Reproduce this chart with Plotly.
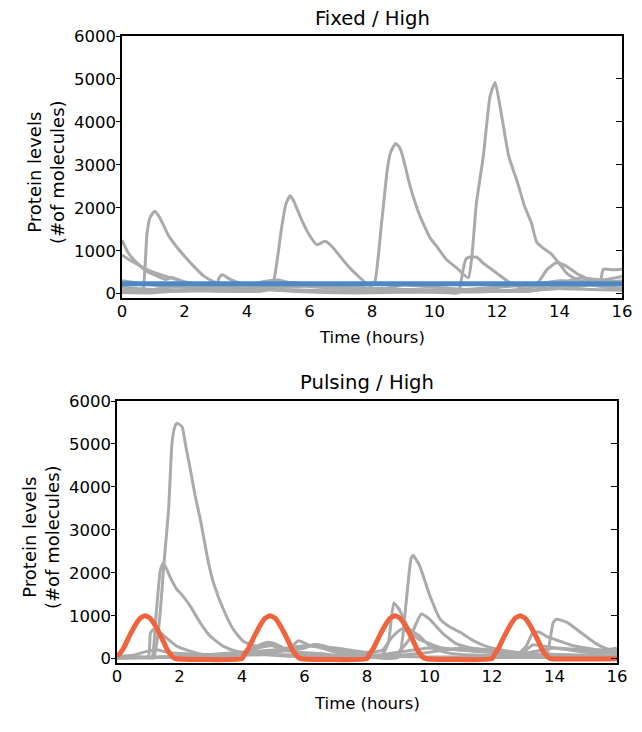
import plotly.graph_objects as go

# ---------------- data: top panel (Fixed / High) ----------------
fixed_level_t = [0, 16]
fixed_level_v = [230, 230]

top_a_t = [0, 0.3, 0.6, 0.68, 0.8, 0.9, 1.05, 1.2, 1.5, 2.0, 2.6, 3.0, 3.5, 4.0, 5.0, 6.0, 7.0, 8.0, 9.0, 10.0, 11.0, 12.0, 13.0, 14.0, 15.0, 16.0]
top_a_v = [180, 90, 40, 120, 1400, 1780, 1920, 1780, 1340, 870, 420, 260, 170, 130, 100, 80, 60, 50, 40, 40, 50, 60, 80, 120, 200, 300]

top_b_t = [0, 0.2, 0.5, 0.8, 1.0, 1.4, 1.6, 2.0, 2.5, 3.0, 4.0, 4.5, 5.0, 5.5, 6.0, 7.0, 8.0, 9.0, 10.0, 10.5, 11.0, 12.0, 13.0, 13.5, 14.0, 14.5, 15.0, 15.5, 16.0]
top_b_v = [1250, 950, 700, 520, 450, 330, 380, 260, 180, 140, 100, 120, 150, 250, 200, 150, 120, 100, 80, 60, 80, 150, 200, 250, 300, 280, 200, 150, 120]

top_c_t = [0, 0.3, 0.6, 1.0, 1.5, 2.0, 2.5, 3.0, 3.5, 4.0, 5.0, 6.0, 7.0, 8.0, 9.0, 10.0, 11.0, 12.0, 13.0, 13.3, 13.6, 13.9, 14.2, 14.6, 15.0, 15.5, 16.0]
top_c_v = [900, 760, 640, 500, 380, 280, 200, 150, 120, 100, 80, 60, 60, 50, 40, 40, 40, 60, 120, 250, 560, 720, 650, 450, 320, 250, 200]

top_d_t = [0, 0.5, 1.0, 1.5, 2.0, 2.5, 3.0, 3.1, 3.2, 3.5, 4.0, 4.5, 5.0, 5.5, 6.0, 7.0, 8.0, 9.0, 10.0, 11.0, 12.0, 13.0, 14.0, 14.5, 15.0, 15.3, 15.4, 15.7, 16.0]
top_d_v = [300, 250, 200, 170, 150, 120, 110, 360, 440, 320, 200, 180, 230, 260, 200, 150, 120, 100, 80, 60, 50, 60, 150, 250, 300, 280, 570, 560, 570]

top_e_t = [0, 0.5, 1.0, 1.5, 2.0, 3.0, 4.0, 4.5, 4.8, 4.95, 5.1, 5.25, 5.38, 5.5, 5.7, 5.95, 6.24, 6.5, 6.72, 7.0, 7.24, 7.5, 7.87, 8.0, 8.1, 8.3, 8.5, 8.6, 8.76, 8.9, 9.0, 9.22, 9.54, 9.86, 10.07, 10.39, 10.71, 11.08, 11.2, 11.34, 11.56, 11.78, 11.94, 12.1, 12.38, 12.66, 12.88, 13.1, 13.27, 13.5, 13.7, 13.91, 14.23, 14.5, 14.77, 15.0, 15.5, 16.0]
top_e_v = [150, 120, 100, 90, 80, 60, 50, 60, 150, 700, 1500, 2100, 2280, 2150, 1800, 1420, 1140, 1220, 1100, 850, 640, 450, 210, 200, 300, 1600, 2950, 3300, 3500, 3380, 3150, 2500, 1800, 1300, 1100, 790, 600, 370, 900, 2100, 3190, 4600, 4920, 4350, 3190, 2580, 2040, 1650, 1200, 1050, 950, 780, 480, 350, 250, 220, 160, 120]

top_f_t = [0, 1, 2, 3, 4, 5, 6, 7, 8, 9, 10, 10.5, 10.76, 10.9, 11.0, 11.1, 11.35, 11.56, 11.99, 12.42, 12.95, 13.5, 14, 14.5, 15.0, 15.5, 16.0]
top_f_v = [50, 70, 90, 100, 120, 150, 180, 160, 120, 80, 40, 20, 20, 500, 800, 850, 850, 710, 480, 250, 100, 100, 150, 250, 300, 330, 400]

top_g_t = [0, 1, 2, 3, 4, 4.5, 5, 5.5, 6, 7, 8, 8.5, 9, 10, 11, 12, 13, 14, 14.5, 15, 15.5, 16]
top_g_v = [80, 100, 200, 180, 200, 280, 320, 230, 170, 120, 100, 130, 200, 150, 100, 80, 60, 200, 350, 350, 300, 260]

top_h_t = [0, 1, 1.5, 2, 3, 4, 4.5, 5, 6, 7, 8, 9, 10, 11, 12, 12.5, 13, 14, 15, 16]
top_h_v = [30, 20, 50, 60, 80, 100, 150, 80, 40, 20, 20, 40, 60, 100, 150, 220, 180, 120, 100, 80]

# ---------------- data: bottom panel (Pulsing / High) ----------------
pulse_t = [0, 0.1, 0.2, 0.3, 0.45, 0.6, 0.75, 0.9, 1.05, 1.2, 1.35, 1.5, 1.6, 1.7, 1.8, 1.9,
           4.0, 4.1, 4.2, 4.3, 4.45, 4.6, 4.75, 4.9, 5.05, 5.2, 5.35, 5.5, 5.6, 5.7, 5.8, 5.9,
           8.0, 8.1, 8.2, 8.3, 8.45, 8.6, 8.75, 8.9, 9.05, 9.2, 9.35, 9.5, 9.6, 9.7, 9.8, 9.9,
           12.0, 12.1, 12.2, 12.3, 12.45, 12.6, 12.75, 12.9, 13.05, 13.2, 13.35, 13.5, 13.6, 13.7, 13.8, 13.9, 16.0]
pulse_v = [60, 130, 230, 380, 600, 800, 950, 1000, 950, 800, 600, 380, 220, 110, 30, 0,
           0, 130, 230, 380, 600, 800, 950, 1000, 950, 800, 600, 380, 220, 110, 30, 0,
           0, 130, 230, 380, 600, 800, 950, 1000, 950, 800, 600, 380, 220, 110, 30, 0,
           0, 130, 230, 380, 600, 800, 950, 1000, 950, 800, 600, 380, 220, 110, 30, 0, 0]

bot_a_t = [0, 0.5, 1.0, 1.17, 1.3, 1.39, 1.5, 1.65, 1.76, 1.85, 1.92, 2.08, 2.2, 2.35, 2.5, 2.67, 2.93, 3.09, 3.41, 3.73, 4.05, 4.48, 4.9, 5.3, 5.8, 6.5, 7.0, 8.0, 9.0, 10.0, 11.0, 12.0, 13.0, 14.0, 15.0, 16.0]
bot_a_v = [40, 30, 20, 20, 500, 1140, 2200, 3465, 5015, 5400, 5480, 5400, 4950, 4395, 3800, 3232, 2225, 1760, 1140, 674, 403, 287, 325, 200, 150, 120, 80, 60, 50, 40, 40, 30, 30, 30, 30, 40]

bot_b_t = [0, 0.5, 1.0, 1.12, 1.25, 1.39, 1.49, 1.7, 1.92, 2.03, 2.35, 2.67, 2.99, 3.41, 3.84, 4.3, 4.7, 5.0, 5.5, 6.0, 7.0, 8.0, 8.5, 8.69, 8.86, 9.02, 9.35, 9.68, 10.0, 10.45, 11.0, 12.0, 13.0, 14.0, 15.0, 16.0]
bot_b_v = [20, 30, 30, 40, 1000, 2070, 2230, 1900, 1605, 1527, 1217, 830, 519, 287, 170, 130, 100, 80, 60, 50, 40, 40, 100, 400, 1300, 1160, 690, 530, 300, 160, 100, 80, 60, 50, 40, 30]

bot_c_t = [0, 0.5, 1.0, 1.07, 1.17, 1.39, 1.92, 2.56, 2.99, 3.5, 4.0, 4.5, 4.8, 5.0, 5.5, 5.8, 6.0, 6.5, 7, 8, 9.0, 9.24, 9.41, 9.48, 9.68, 10.01, 10.34, 10.67, 11.0, 11.33, 11.77, 12.2, 13.0, 14.0, 15.0, 16.0]
bot_c_v = [30, 40, 50, 600, 680, 600, 290, 130, 60, 40, 100, 300, 380, 360, 200, 150, 120, 80, 60, 40, 30, 1230, 2330, 2400, 2170, 1470, 920, 730, 610, 450, 300, 220, 130, 100, 80, 60]

bot_d_t = [0, 0.5, 0.96, 1.3, 1.6, 2.0, 3, 4, 4.5, 5.0, 5.5, 5.8, 6.2, 6.5, 7, 8, 8.5, 9.0, 9.35, 9.74, 10.0, 10.45, 10.89, 11.55, 12, 13, 13.3, 13.6, 14, 14.5, 15, 16]
bot_d_v = [60, 80, 170, 200, 150, 120, 100, 120, 250, 310, 220, 420, 300, 260, 150, 100, 80, 150, 450, 1040, 920, 570, 340, 220, 180, 150, 320, 300, 250, 200, 150, 120]

bot_e_t = [0, 1, 2, 3, 4, 5, 6, 6.3, 6.6, 7, 8, 9, 10, 11, 12, 13, 13.5, 13.74, 13.96, 14.07, 14.4, 14.84, 15.28, 15.72, 16]
bot_e_v = [20, 30, 50, 80, 120, 150, 250, 330, 300, 200, 100, 80, 150, 250, 200, 100, 50, 62, 844, 920, 844, 610, 375, 220, 250]

bot_f_t = [0, 1, 2, 3, 4, 5, 6, 7, 8, 8.5, 8.8, 9.13, 9.68, 10.34, 11, 12, 12.8, 13.1, 13.3, 13.5, 13.8, 14.2, 14.6, 15, 15.5, 16]
bot_f_v = [50, 40, 60, 100, 150, 200, 300, 250, 150, 200, 500, 690, 450, 260, 200, 150, 100, 300, 600, 620, 500, 400, 300, 250, 200, 180]

bot_g_t = [0, 1, 2, 3, 4, 5, 6, 7, 8, 9, 10, 11, 12, 13, 14, 15, 16]
bot_g_v = [10, 20, 40, 60, 80, 100, 80, 60, 40, 150, 250, 200, 150, 120, 250, 200, 150]

x_ticks = [0, 2, 4, 6, 8, 10, 12, 14, 16]
y_ticks = [0, 1000, 2000, 3000, 4000, 5000, 6000]

# ---------------- styles ----------------
GRAY = "#aaaaaa"
BLUE = "#4b88c8"
ORANGE = "#f0633f"
FONT = "DejaVu Sans"

fig = go.Figure()

top_traces = [(top_a_t, top_a_v), (top_b_t, top_b_v), (top_c_t, top_c_v), (top_d_t, top_d_v),
              (top_f_t, top_f_v), (top_g_t, top_g_v), (top_h_t, top_h_v), (top_e_t, top_e_v)]
for t, v in top_traces:
    fig.add_trace(go.Scatter(x=t, y=v, mode="lines",
                             line=dict(color=GRAY, width=3, shape="spline", smoothing=0.5),
                             xaxis="x", yaxis="y", showlegend=False, hoverinfo="skip"))
fig.add_trace(go.Scatter(x=fixed_level_t, y=fixed_level_v, mode="lines",
                         line=dict(color=BLUE, width=5), xaxis="x", yaxis="y", showlegend=False))

bot_traces = [(bot_g_t, bot_g_v), (bot_e_t, bot_e_v), (bot_f_t, bot_f_v), (bot_d_t, bot_d_v),
              (bot_c_t, bot_c_v), (bot_b_t, bot_b_v), (bot_a_t, bot_a_v)]
for t, v in bot_traces:
    fig.add_trace(go.Scatter(x=t, y=v, mode="lines",
                             line=dict(color=GRAY, width=3, shape="spline", smoothing=0.5),
                             xaxis="x2", yaxis="y2", showlegend=False, hoverinfo="skip"))
fig.add_trace(go.Scatter(x=pulse_t, y=pulse_v, mode="lines",
                         line=dict(color=ORANGE, width=5, shape="spline", smoothing=0.4),
                         xaxis="x2", yaxis="y2", showlegend=False))

# dummy traces so the right-side tick axes are drawn
fig.add_trace(go.Scatter(x=[None], y=[None], xaxis="x", yaxis="y3", showlegend=False, hoverinfo="skip"))
fig.add_trace(go.Scatter(x=[None], y=[None], xaxis="x2", yaxis="y4", showlegend=False, hoverinfo="skip"))

# The page body has an 8px margin; size the figure so it fits the 642x732 window
OFF = 8
W, H = 642 - 2 * OFF, 732 - 2 * OFF


def px(xs):
    return (xs - OFF) / W


def py(ys):
    return 1 - (ys - OFF) / H


top_dom_x = [px(122), px(622)]
bot_dom_x = [px(117), px(617)]
top_dom_y = [py(298), py(36)]
bot_dom_y = [py(663), py(401)]
YR = [-100, 6000]
tickfont = dict(family=FONT, size=16.5, color="black")

xcommon = dict(range=[0, 16], tickvals=x_ticks, ticks="", showgrid=False, zeroline=False,
               showline=True, linecolor="black", linewidth=1.5, mirror=True, tickfont=tickfont,
               automargin=False, ticklabelstandoff=-3)
ycommon = dict(range=YR, tickvals=y_ticks, ticks="outside", ticklen=4, tickcolor="black",
               showgrid=False, zeroline=False, showline=True, linecolor="black", linewidth=1.5,
               mirror=True, tickfont=tickfont, automargin=False, ticklabelstandoff=-3)
yright = dict(range=YR, tickvals=y_ticks, ticks="inside", ticklen=6, tickcolor="black",
              showgrid=False, zeroline=False, showline=False, showticklabels=False, side="right",
              automargin=False)

fig.update_layout(
    width=W, height=H,
    margin=dict(l=0, r=0, t=0, b=0, autoexpand=False),
    paper_bgcolor="white", plot_bgcolor="white",
    xaxis=dict(domain=top_dom_x, anchor="y", **xcommon),
    yaxis=dict(domain=top_dom_y, anchor="x", **ycommon),
    xaxis2=dict(domain=bot_dom_x, anchor="y2", **xcommon),
    yaxis2=dict(domain=bot_dom_y, anchor="x2", **ycommon),
    yaxis3=dict(overlaying="y", anchor="x", **yright),
    yaxis4=dict(overlaying="y2", anchor="x2", **yright),
)

lab = dict(family=FONT, size=16.5, color="black")
ylab = dict(family=FONT, size=18, color="black")
ttl = dict(family=FONT, size=19.6, color="black")
ann = [
    dict(text="Fixed / High", x=px(372), y=py(18), font=ttl),
    dict(text="Time (hours)", x=px(372), y=py(337), font=lab),
    dict(text="Protein levels<br>(#of molecules)", x=px(46), y=py(172), font=ylab, textangle=-90),
    dict(text="Pulsing / High", x=px(367), y=py(382), font=ttl),
    dict(text="Time (hours)", x=px(367), y=py(703), font=lab),
    dict(text="Protein levels<br>(#of molecules)", x=px(41), y=py(537), font=ylab, textangle=-90),
]
for a in ann:
    fig.add_annotation(xref="paper", yref="paper", xanchor="center", yanchor="middle",
                       showarrow=False, **a)

fig.write_html("out.html")
